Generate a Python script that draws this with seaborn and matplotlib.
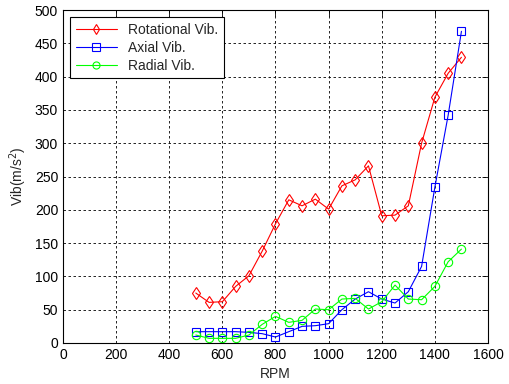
import matplotlib
matplotlib.use("Agg")
import matplotlib.pyplot as plt
import seaborn as sns
import pandas as pd

rpm = [500, 550, 600, 650, 700, 750, 800, 850, 900, 950, 1000,
       1050, 1100, 1150, 1200, 1250, 1300, 1350, 1400, 1450, 1500]
rotational = [75, 61, 62, 85, 101, 138, 179, 215, 206, 216, 201,
              236, 245, 266, 191, 192, 206, 300, 369, 405, 429]
axial = [17, 17, 17, 17, 16, 14, 9, 17, 25, 26, 29,
         50, 66, 77, 66, 60, 77, 115, 234, 342, 468]
radial = [12, 7, 7, 7, 12, 28, 40, 31, 34, 51, 50,
          66, 67, 51, 62, 87, 66, 65, 85, 122, 141]
series_names = ["Rotational Vib.", "Axial Vib.", "Radial Vib."]
x_ticks = [0, 200, 400, 600, 800, 1000, 1200, 1400, 1600]
y_ticks = [0, 50, 100, 150, 200, 250, 300, 350, 400, 450, 500]

sns.set_style("white")
plt.rcParams['font.family'] = ['Liberation Sans', 'DejaVu Sans']

fig = plt.figure(figsize=(5.1, 3.84), dpi=100)
ax = fig.add_axes([63/510, 1 - 343/384, (488-63)/510, (343-10)/384])

styles = [("#ff0000", "d"), ("#0000ff", "s"), ("#00ff00", "o")]
for name, vals, (c, m) in zip(series_names, [rotational, axial, radial], styles):
    df = pd.DataFrame({"RPM": rpm, "v": vals})
    sns.lineplot(data=df, x="RPM", y="v", ax=ax, color=c, marker=m,
                 markersize=6, markerfacecolor="none", markeredgecolor=c,
                 markeredgewidth=0.8, linewidth=0.8, label=name)

ax.set_xlim(0, 1600)
ax.set_ylim(0, 500)
ax.set_xticks(x_ticks)
ax.set_yticks(y_ticks)
ax.tick_params(direction="in", length=4, labelsize=10, colors="black",
               top=True, right=True, width=0.6)
ax.grid(True, linestyle=(0, (3, 3)), color="black", linewidth=0.6)
for s in ax.spines.values():
    s.set_color("black")
    s.set_linewidth(0.8)
ax.set_xlabel("RPM", fontsize=10)
ax.set_ylabel("Vib(m/s$^2$)", fontsize=10)
leg = ax.legend(loc="upper left", fontsize=10, frameon=True, fancybox=False,
                edgecolor="black", framealpha=1, borderaxespad=0.5,
                handlelength=3, markerscale=0.85, labelspacing=0.3)
leg.get_frame().set_linewidth(0.8)

fig.savefig("out.png", dpi=100)
